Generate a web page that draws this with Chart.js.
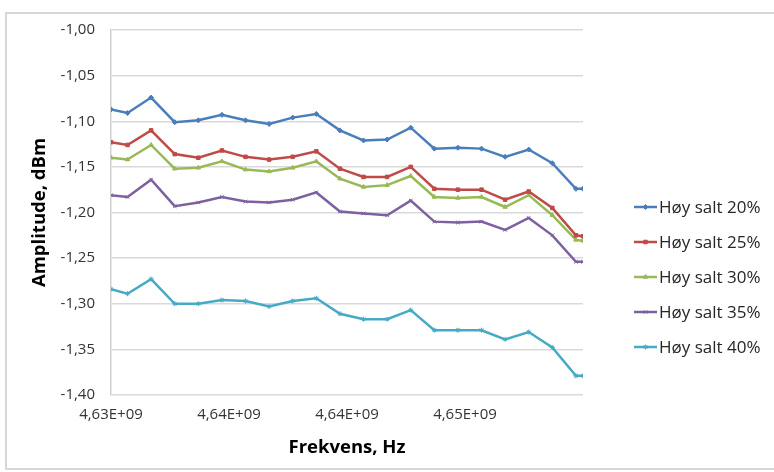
<!DOCTYPE html>
<html>
<head>
<meta charset="utf-8">
<script src="https://cdn.jsdelivr.net/npm/chart.js@4/dist/chart.umd.min.js"></script>
<style>
  html, body { margin: 0; padding: 0; background: #ffffff; }
  #wrap { width: 774px; height: 472px; position: relative; }
</style>
</head>
<body>
<div id="wrap"><canvas id="c" width="774" height="472"></canvas></div>
<script>
// Frequencies (Hz)
const freqs = [4.6300e9, 4.6307e9, 4.6317e9, 4.6327e9, 4.6337e9, 4.6347e9, 4.6357e9, 4.6367e9,
               4.6377e9, 4.6387e9, 4.6397e9, 4.6407e9, 4.6417e9, 4.6427e9, 4.6437e9, 4.6447e9,
               4.6457e9, 4.6467e9, 4.6477e9, 4.6487e9, 4.6497e9, 4.6500e9];

const seriesNames = ['Høy salt 20%', 'Høy salt 25%', 'Høy salt 30%', 'Høy salt 35%', 'Høy salt 40%'];

const salt20 = [-1.087, -1.091, -1.074, -1.101, -1.099, -1.093, -1.099, -1.103, -1.096, -1.092, -1.110,
                -1.121, -1.120, -1.107, -1.130, -1.129, -1.130, -1.139, -1.131, -1.146, -1.174, -1.174];
const salt25 = [-1.123, -1.126, -1.110, -1.136, -1.140, -1.132, -1.139, -1.142, -1.139, -1.133, -1.152,
                -1.161, -1.161, -1.150, -1.174, -1.175, -1.175, -1.186, -1.177, -1.195, -1.225, -1.226];
const salt30 = [-1.140, -1.142, -1.126, -1.152, -1.151, -1.144, -1.153, -1.155, -1.151, -1.144, -1.163,
                -1.172, -1.170, -1.160, -1.183, -1.184, -1.183, -1.194, -1.181, -1.203, -1.230, -1.231];
const salt35 = [-1.181, -1.183, -1.164, -1.193, -1.189, -1.183, -1.188, -1.189, -1.186, -1.178, -1.199,
                -1.201, -1.203, -1.187, -1.210, -1.211, -1.210, -1.219, -1.206, -1.225, -1.254, -1.254];
const salt40 = [-1.284, -1.289, -1.273, -1.300, -1.300, -1.296, -1.297, -1.303, -1.297, -1.294, -1.311,
                -1.317, -1.317, -1.307, -1.329, -1.329, -1.329, -1.339, -1.331, -1.348, -1.379, -1.379];

const yTicks = [-1.40, -1.35, -1.30, -1.25, -1.20, -1.15, -1.10, -1.05, -1.00];
const xTicks = [4.630e9, 4.635e9, 4.640e9, 4.645e9, 4.650e9];

const colors = ['#4A7EBB', '#BE4B48', '#98B954', '#7D60A0', '#46AAC5'];
const markers = ['rectRot', 'rect', 'triangle', 'crossRot', 'star'];
const allSeries = [salt20, salt25, salt30, salt35, salt40];

const FONT = '"Open Sans", Lato, sans-serif';

const datasets = allSeries.map((vals, i) => ({
  label: seriesNames[i],
  data: vals.map((v, k) => ({ x: freqs[k], y: v })),
  showLine: true,
  borderColor: colors[i],
  backgroundColor: colors[i],
  borderWidth: 2.5,
  pointStyle: markers[i],
  pointRadius: 2.5,
  pointBorderWidth: 1,
  pointBackgroundColor: colors[i],
  pointBorderColor: colors[i],
  tension: 0
}));

const framePlugin = {
  id: 'frame',
  beforeDraw(chart) {
    const ctx = chart.ctx;
    ctx.save();
    ctx.fillStyle = '#ffffff';
    ctx.fillRect(0, 0, chart.width, chart.height);
    ctx.strokeStyle = '#d6d6d6';
    ctx.lineWidth = 2;
    ctx.strokeRect(6, 13, chart.width + 10, chart.height - 16);
    ctx.restore();
  }
};

const legendPlugin = {
  id: 'excelLegend',
  afterDraw(chart) {
    const ctx = chart.ctx;
    ctx.save();
    const x0 = 634, x1 = 657, tx = 659;
    const y0 = 207, dy = 35;
    chart.data.datasets.forEach((ds, i) => {
      const y = y0 + i * dy;
      ctx.strokeStyle = ds.borderColor;
      ctx.fillStyle = ds.borderColor;
      ctx.lineWidth = 2.5;
      ctx.beginPath();
      ctx.moveTo(x0, y);
      ctx.lineTo(x1, y);
      ctx.stroke();
      ctx.lineWidth = 1;
      Chart.helpers.drawPoint(ctx, {
        pointStyle: ds.pointStyle, radius: 2.5, borderWidth: 1
      }, (x0 + x1) / 2, y);
      ctx.fillStyle = '#262626';
      ctx.font = '17px ' + FONT;
      ctx.textAlign = 'left';
      ctx.textBaseline = 'middle';
      ctx.fillText(ds.label, tx, y + 1);
    });
    ctx.restore();
  }
};

new Chart(document.getElementById('c'), {
  type: 'scatter',
  data: { datasets },
  plugins: [framePlugin, legendPlugin],
  options: {
    responsive: false,
    devicePixelRatio: 1,
    animation: false,
    layout: { padding: { left: 25, right: 191, top: 30, bottom: 9 } },
    plugins: {
      legend: { display: false },
      tooltip: { enabled: false }
    },
    scales: {
      x: {
        type: 'linear',
        min: xTicks[0],
        max: xTicks[xTicks.length - 1],
        afterBuildTicks(scale) { scale.ticks = xTicks.map(v => ({ value: v })); },
        afterFit(scale) { scale.height = 68; },
        grid: { display: false, drawTicks: false },
        border: { display: false },
        ticks: {
          autoSkip: false,
          maxRotation: 0,
          padding: 11,
          color: '#333333',
          font: { family: FONT, size: 15 },
          callback(v, idx) {
            if (idx === xTicks.length - 1) return '';
            const m = Math.round(v / 1e7) / 100;
            return m.toFixed(2).replace('.', ',') + 'E+09';
          }
        },
        title: {
          display: true,
          text: 'Frekvens, Hz',
          color: '#000000',
          font: { family: FONT, size: 18.5, weight: 'bold' },
          padding: { top: 0, bottom: 4 }
        }
      },
      y: {
        min: yTicks[0],
        max: yTicks[yTicks.length - 1],
        afterBuildTicks(scale) { scale.ticks = yTicks.map(v => ({ value: v })); },
        afterFit(scale) { scale.width = 86; },
        grid: { color: '#d9d9d9', lineWidth: 1.5, drawTicks: false },
        border: { display: true, color: '#d0d0d0', width: 1.5 },
        ticks: {
          padding: 16,
          color: '#333333',
          font: { family: FONT, size: 15 },
          callback(v) { return v.toFixed(2).replace('.', ','); }
        },
        title: {
          display: true,
          text: 'Amplitude, dBm',
          color: '#000000',
          font: { family: FONT, size: 18.5, weight: 'bold' },
          padding: { top: 4, bottom: 0 }
        }
      }
    }
  }
});
</script>
</body>
</html>
